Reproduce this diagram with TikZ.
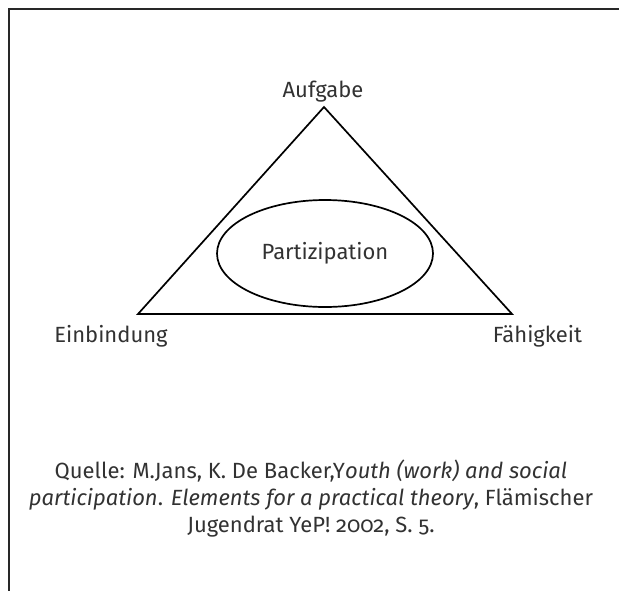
\documentclass[tikz,border=0pt]{standalone}
\usepackage{fontspec}
\setmainfont[Numbers=OldStyle]{Fira Sans}
\usepackage{tikz}
\usetikzlibrary{positioning, shapes.geometric}
\usepackage{xcolor}
\definecolor{inkgray}{RGB}{50,50,50}
\definecolor{framegray}{RGB}{40,40,40}

\begin{document}
\begin{tikzpicture}[x=0.5pt, y=0.5pt,
    lbl/.style={inner sep=0pt, text=inkgray, font=\fontsize{11}{13.5}\selectfont},
    edge/.style={black, line width=0.85pt, line join=miter}]
  \useasboundingbox (0,0) rectangle (619,591);
  % frame (top and left only)
  \draw[framegray, line width=1pt] (619,582) -- (9,582) -- (9,0);

  % corners of the triangle
  \coordinate (top) at (324,484);
  \coordinate (left) at (138,277);
  \coordinate (right) at (512,277);
  \draw[edge] (top) -- (right) -- (left) -- cycle;

  \node[lbl, ellipse, draw=black, line width=0.85pt, minimum width=108pt, minimum height=53.5pt] (part) at (325,337.5) {Partizipation};

  \node[lbl, anchor=base] (aufgabe) at (323,494) {Aufgabe};
  \node[lbl, anchor=base] (einb) at (111,249) {Einbindung};
  \node[lbl, anchor=base] (faehig) at (537.5,249) {Fähigkeit};

  \node[lbl, anchor=north, align=center] (quelle) at (311,132) {Quelle: M.Jans, K. De Backer,Y\textit{outh (work) and social}\\
    \textit{participation}. \textit{Elements for a practical theory}, Flämischer\\
    Jugendrat YeP! 2002, S. 5.};
\end{tikzpicture}
\end{document}
